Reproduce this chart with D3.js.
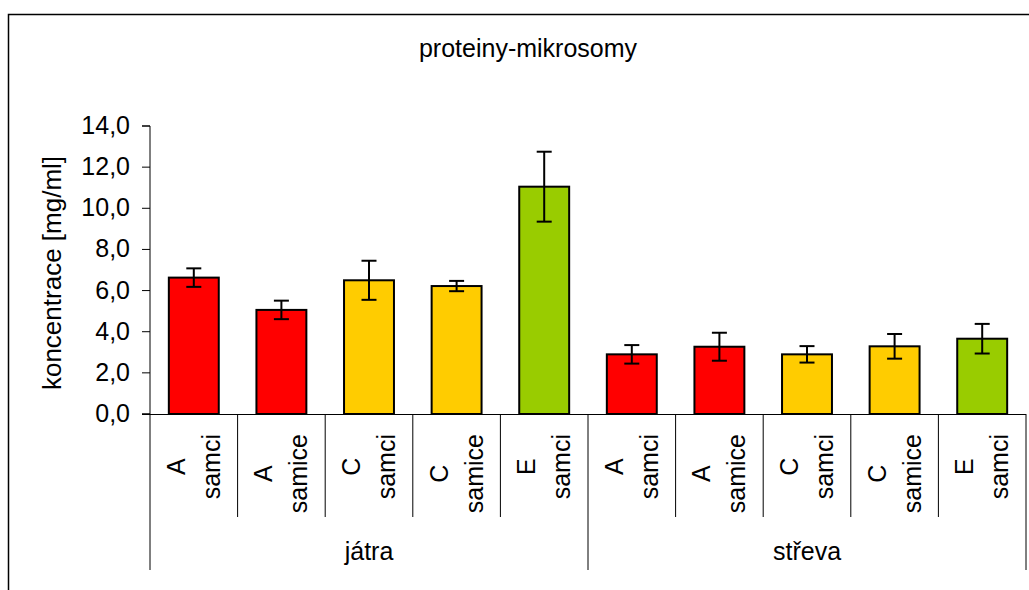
<!DOCTYPE html>
<html>
<head>
<meta charset="utf-8">
<script src="https://cdn.jsdelivr.net/npm/d3@7"></script>
<style>
  body { margin: 0; background: #fff; }
  svg { display: block; font-family: "Liberation Sans", Arial, sans-serif; }
</style>
</head>
<body>
<svg width="1029" height="590"></svg>
<script>
// chart data
const groups = ["játra", "střeva"];
const treatments = ["A", "A", "C", "C", "E", "A", "A", "C", "C", "E"];
const sexes = ["samci", "samice", "samci", "samice", "samci", "samci", "samice", "samci", "samice", "samci"];
const means = [6.63, 5.06, 6.5, 6.22, 11.05, 2.9, 3.27, 2.9, 3.29, 3.66];
const errs = [0.45, 0.45, 0.95, 0.25, 1.7, 0.45, 0.68, 0.4, 0.6, 0.72];
const yTicks = [0, 2, 4, 6, 8, 10, 12, 14];
const colorOf = {A: "#ff0000", C: "#ffcc00", E: "#99cc00"};

const svg = d3.select("svg");
const margin = {top: 126, left: 150, right: 1026, bottom: 414};

const locale = d3.formatLocale({decimal: ",", thousands: " ", grouping: [3], currency: ["", " Kč"]});
const fmt = locale.format(".1f");

const idx = d3.range(means.length);

const x = d3.scaleBand()
    .domain(idx)
    .range([margin.left, margin.right])
    .paddingInner(0.43)
    .paddingOuter(0.215);

const y = d3.scaleLinear()
    .domain([0, 14])
    .range([margin.bottom, margin.top]);

// outer frame
svg.append("rect")
    .attr("x", 8.5).attr("y", 14.5)
    .attr("width", 1040).attr("height", 600)
    .attr("fill", "none")
    .attr("stroke", "#000")
    .attr("stroke-width", 1.5);

// title
svg.append("text")
    .attr("x", 528).attr("y", 57)
    .attr("text-anchor", "middle")
    .attr("font-size", 25)
    .text("proteiny-mikrosomy");

// y axis
const yAxis = svg.append("g")
    .attr("transform", `translate(${margin.left},0)`)
    .call(d3.axisLeft(y).tickValues(yTicks).tickFormat(fmt).tickSize(8).tickPadding(12).offset(0));
yAxis.select(".domain").attr("stroke", "#000");
yAxis.selectAll(".tick line").attr("stroke", "#000");
yAxis.selectAll(".tick text")
    .attr("font-size", 25)
    .attr("font-family", "Liberation Sans, Arial, sans-serif")
    .attr("fill", "#000");

svg.append("text")
    .attr("transform", "translate(61,273) rotate(-90)")
    .attr("text-anchor", "middle")
    .attr("font-size", 26)
    .text("koncentrace [mg/ml]");

// bars
svg.append("g").selectAll("rect")
    .data(idx)
    .join("rect")
    .attr("x", i => x(i))
    .attr("y", i => y(means[i]))
    .attr("width", x.bandwidth())
    .attr("height", i => y(0) - y(means[i]))
    .attr("fill", i => colorOf[treatments[i]])
    .attr("stroke", "#000")
    .attr("stroke-width", 2);

// error bars
const eb = svg.append("g").attr("stroke", "#000").attr("stroke-width", 2);
idx.forEach(i => {
    const cx = x(i) + x.bandwidth() / 2;
    const lo = y(means[i] - errs[i]), hi = y(means[i] + errs[i]);
    eb.append("line").attr("x1", cx).attr("x2", cx).attr("y1", lo).attr("y2", hi);
    eb.append("line").attr("x1", cx - 7.5).attr("x2", cx + 7.5).attr("y1", lo).attr("y2", lo);
    eb.append("line").attr("x1", cx - 7.5).attr("x2", cx + 7.5).attr("y1", hi).attr("y2", hi);
});

// x axis line
svg.append("line")
    .attr("x1", margin.left - 8).attr("x2", margin.right)
    .attr("y1", margin.bottom + 0.5).attr("y2", margin.bottom + 0.5)
    .attr("stroke", "#000");

// category dividers
const step = x.step();
d3.range(means.length + 1).forEach(k => {
    const px = margin.left + k * step;
    const long = k % 5 === 0;
    svg.append("line")
        .attr("x1", px).attr("x2", px)
        .attr("y1", margin.bottom).attr("y2", long ? 570 : 517)
        .attr("stroke", "#000");
});

// category labels (two lines, rotated)
idx.forEach(i => {
    const cx = x(i) + x.bandwidth() / 2;
    const g = svg.append("g");
    const t1 = g.append("text").attr("font-size", 25).attr("text-anchor", "middle").text(treatments[i]);
    const t2 = g.append("text").attr("font-size", 25).attr("text-anchor", "middle").text(sexes[i]);
    const w = Math.max(t1.node().getComputedTextLength(), t2.node().getComputedTextLength());
    g.attr("transform", `translate(${cx},${434 + w / 2}) rotate(-90)`);
    t1.attr("y", -9);
    t2.attr("y", 26);
});

// group labels
groups.forEach((name, gi) => {
    const gx = margin.left + (gi * 5 + 2.5) * step;
    svg.append("text")
        .attr("x", gx).attr("y", 560)
        .attr("text-anchor", "middle")
        .attr("font-size", 25)
        .text(name);
});
</script>
</body>
</html>
